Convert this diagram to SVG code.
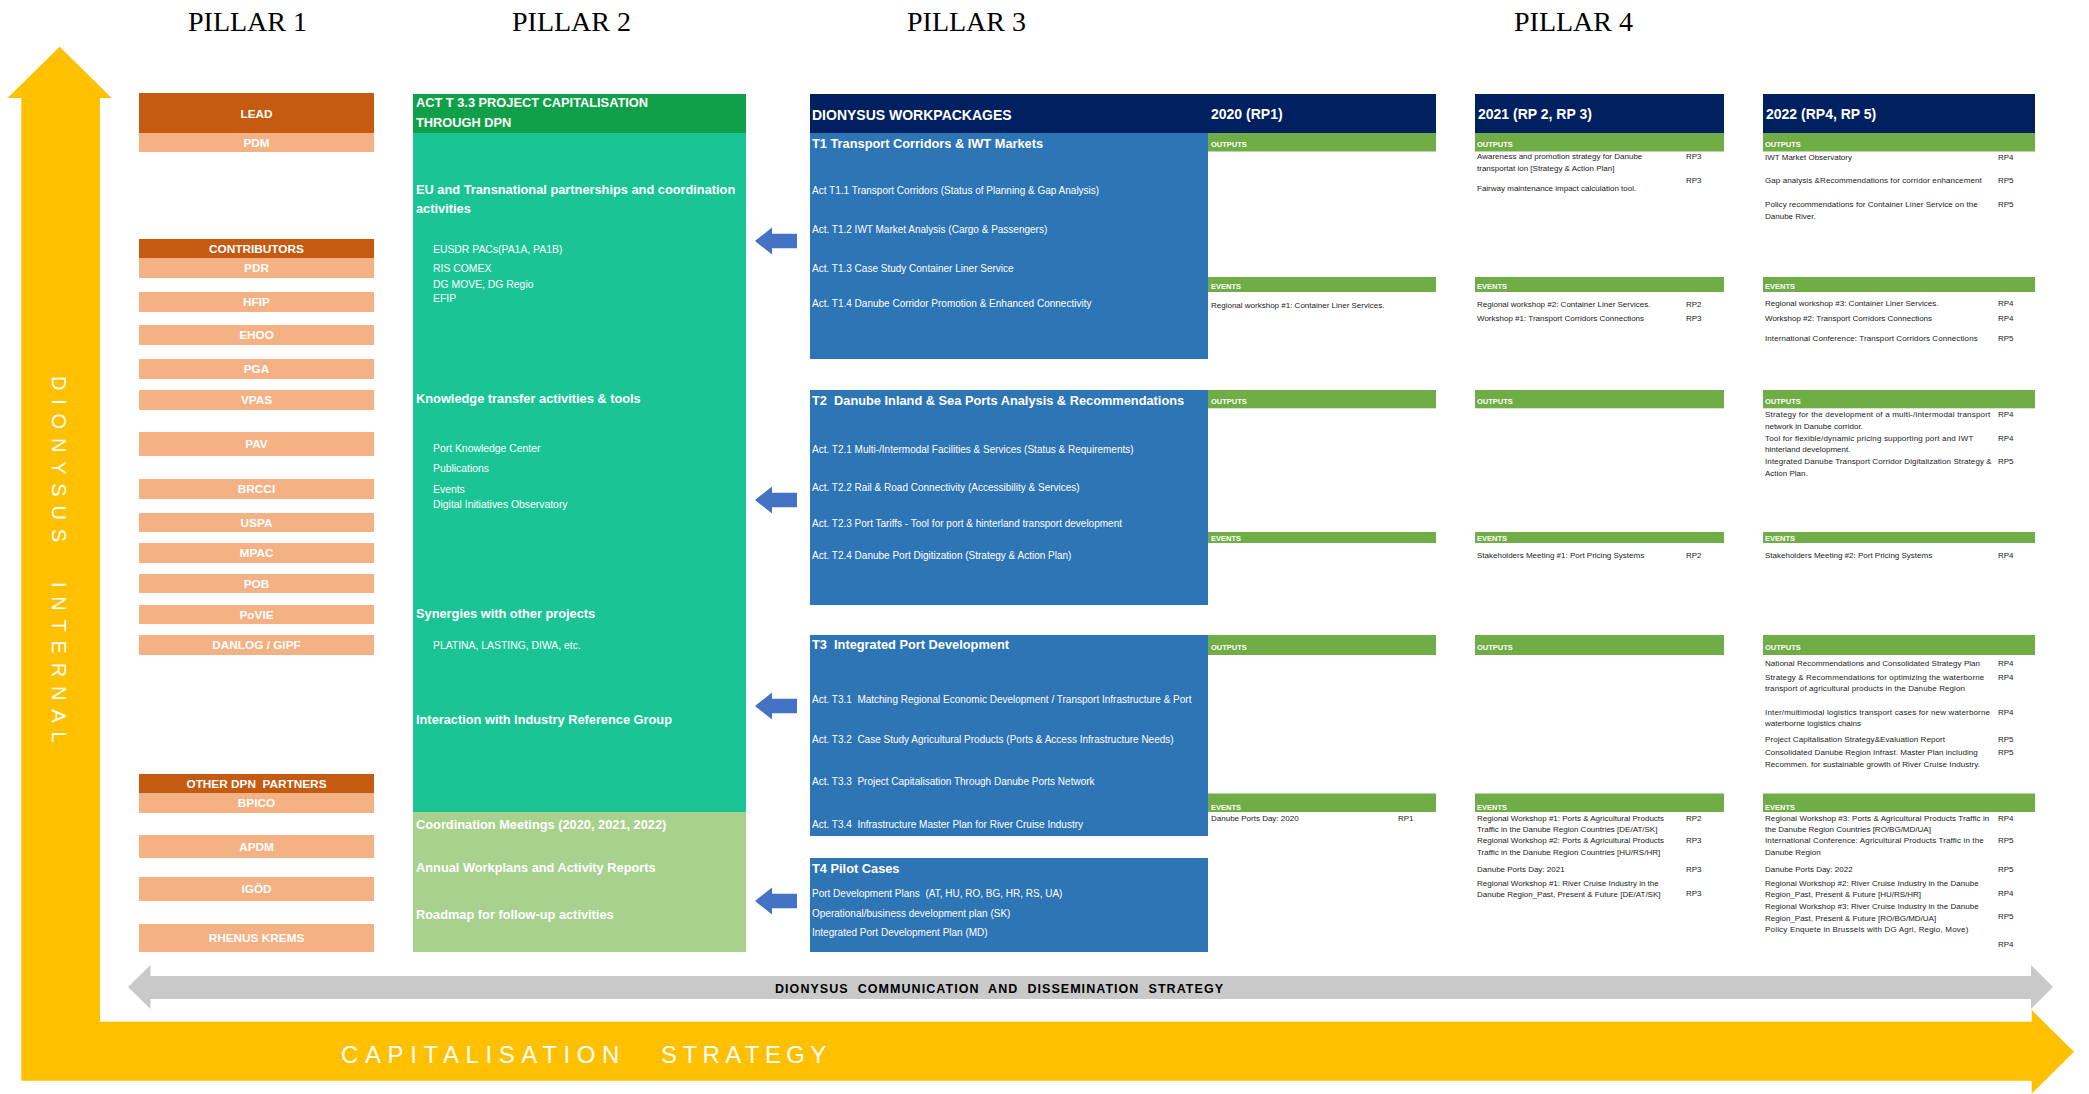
<svg xmlns="http://www.w3.org/2000/svg" width="2089" height="1094" viewBox="0 0 2089 1094">
<style>
text{font-family:'Liberation Sans',Arial,sans-serif}
.ttl{font-family:'Liberation Serif','Times New Roman',serif;font-size:28px;fill:#000}
.dk{fill:#C55A11}.lt{fill:#F4B183}
.pt{font-weight:bold;font-size:11.8px;fill:#fff;text-anchor:middle}
.b{font-weight:bold;fill:#fff;font-size:12.8px}
.w{fill:#fff;font-size:10px}
.w2{fill:#fff;font-size:10.4px}
.yh{font-weight:bold;fill:#fff;font-size:14px}
.gb{fill:#70AD47}
.gl{font-weight:bold;fill:#fff;font-size:7.5px}
.s{fill:#222;font-size:8px}
.navy{fill:#002060}.blue{fill:#2E75B6}
.teal{fill:#1AC495}.lg{fill:#A9D18E}
.big{fill:#fff;font-size:24px;letter-spacing:6.6px}
.vert{fill:#fff;font-size:20px;letter-spacing:8.8px}
</style>
<defs>
<path id="blk" d="M-21,0 L-4,-13.5 L-4,-7.3 L21,-7.3 L21,7.3 L-4,7.3 L-4,13.5 Z" fill="#4472C4"/>
</defs>

<!-- background frame arrows -->
<g id="capitalisation-arrow">
<polygon fill="#FFC000" points="59.6,46.7 111.7,98 100,98 100,1021.7 2031.7,1021.7 2031.7,1010 2074,1051.7 2031.7,1093.5 2031.7,1080.7 21.3,1080.7 21.3,98 7.6,98"/>
<text class="big" x="341" y="1063">CAPITALISATION<tspan x="661" letter-spacing="5.4">STRATEGY</tspan></text>
<text class="vert" transform="translate(52,376) rotate(90)">DIONYSUS<tspan x="206">INTERNAL</tspan></text>
</g>
<g id="communication-arrow">
<polygon fill="#C9C9C9" points="128,987 150.5,965 150.5,976 2031,976 2031,965 2053,987 2031,1009 2031,999 150.5,999 150.5,1009"/>
<text x="999" y="993" font-weight="bold" font-size="12.5" fill="#000" text-anchor="middle" textLength="448" xml:space="preserve">DIONYSUS  COMMUNICATION  AND  DISSEMINATION  STRATEGY</text>
</g>

<g id="titles">
<text class="ttl" x="188" y="30.7">PILLAR 1</text>
<text class="ttl" x="512" y="30.7">PILLAR 2</text>
<text class="ttl" x="907" y="30.7">PILLAR 3</text>
<text class="ttl" x="1514" y="30.7">PILLAR 4</text>
</g>

<!-- PILLAR 1 -->
<g id="p1-lead"><rect class="dk" x="139" y="93" width="235" height="40"/><text class="pt" x="256.5" y="117.5">LEAD</text></g>
<g id="p1-pdm"><rect class="lt" x="139" y="133" width="235" height="19"/><text class="pt" x="256.5" y="146.7">PDM</text></g>
<g id="p1-contributors"><rect class="dk" x="139" y="239" width="235" height="19"/><text class="pt" x="256.5" y="252.7">CONTRIBUTORS</text></g>
<g id="p1-pdr"><rect class="lt" x="139" y="258" width="235" height="20"/><text class="pt" x="256.5" y="272.2">PDR</text></g>
<g id="p1-hfip"><rect class="lt" x="139" y="292" width="235" height="20"/><text class="pt" x="256.5" y="306.2">HFIP</text></g>
<g id="p1-ehoo"><rect class="lt" x="139" y="325" width="235" height="20"/><text class="pt" x="256.5" y="339.2">EHOO</text></g>
<g id="p1-pga"><rect class="lt" x="139" y="359" width="235" height="20"/><text class="pt" x="256.5" y="373.2">PGA</text></g>
<g id="p1-vpas"><rect class="lt" x="139" y="390" width="235" height="20"/><text class="pt" x="256.5" y="404.2">VPAS</text></g>
<g id="p1-pav"><rect class="lt" x="139" y="432" width="235" height="24"/><text class="pt" x="256.5" y="448.2">PAV</text></g>
<g id="p1-brcci"><rect class="lt" x="139" y="479" width="235" height="20"/><text class="pt" x="256.5" y="493.2">BRCCI</text></g>
<g id="p1-uspa"><rect class="lt" x="139" y="513" width="235" height="19"/><text class="pt" x="256.5" y="526.7">USPA</text></g>
<g id="p1-mpac"><rect class="lt" x="139" y="543" width="235" height="20"/><text class="pt" x="256.5" y="557.2">MPAC</text></g>
<g id="p1-pob"><rect class="lt" x="139" y="574" width="235" height="19"/><text class="pt" x="256.5" y="587.7">POB</text></g>
<g id="p1-povie"><rect class="lt" x="139" y="605" width="235" height="19"/><text class="pt" x="256.5" y="618.7">PoVIE</text></g>
<g id="p1-danlog"><rect class="lt" x="139" y="635" width="235" height="20"/><text class="pt" x="256.5" y="649.2">DANLOG / GIPF</text></g>
<g id="p1-other"><rect class="dk" x="139" y="774" width="235" height="19"/><text class="pt" x="256.5" y="787.7" xml:space="preserve">OTHER DPN  PARTNERS</text></g>
<g id="p1-bpico"><rect class="lt" x="139" y="793" width="235" height="20"/><text class="pt" x="256.5" y="807.2">BPICO</text></g>
<g id="p1-apdm"><rect class="lt" x="139" y="835" width="235" height="23"/><text class="pt" x="256.5" y="850.7">APDM</text></g>
<g id="p1-igod"><rect class="lt" x="139" y="877" width="235" height="24"/><text class="pt" x="256.5" y="893.2">IGÖD</text></g>
<g id="p1-rhenus"><rect class="lt" x="139" y="924" width="235" height="28"/><text class="pt" x="256.5" y="942.2">RHENUS KREMS</text></g>

<!-- PILLAR 2 -->
<g id="p2-header"><rect fill="#11A04A" x="413" y="94" width="333" height="39"/>
<text class="b" font-size="13.3" x="416" y="106.7">ACT T 3.3 PROJECT CAPITALISATION</text>
<text class="b" font-size="13.3" x="416" y="126.7">THROUGH DPN</text></g>
<g id="p2-activities"><rect class="teal" x="413" y="133" width="333" height="679"/>
<text class="b" x="416" y="194.3">EU and Transnational partnerships and coordination</text>
<text class="b" x="416" y="213.3">activities</text>
<text class="w2" x="433" y="253.3">EUSDR PACs(PA1A, PA1B)</text>
<text class="w2" x="433" y="271.7">RIS COMEX</text>
<text class="w2" x="433" y="287.7">DG MOVE, DG Regio</text>
<text class="w2" x="433" y="302.3">EFIP</text>
<text class="b" x="416" y="403.3">Knowledge transfer activities &amp; tools</text>
<text class="w2" x="433" y="451.7">Port Knowledge Center</text>
<text class="w2" x="433" y="471.7">Publications</text>
<text class="w2" x="433" y="492.7">Events</text>
<text class="w2" x="433" y="508.3">Digital Initiatives Observatory</text>
<text class="b" x="416" y="618.3">Synergies with other projects</text>
<text class="w2" x="433" y="649.3">PLATINA, LASTING, DIWA, etc.</text>
<text class="b" x="416" y="724">Interaction with Industry Reference Group</text></g>
<g id="p2-coordination"><rect class="lg" x="413" y="812" width="333" height="140"/>
<text class="b" x="416" y="829.3">Coordination Meetings (2020, 2021, 2022)</text>
<text class="b" x="416" y="872.3">Annual Workplans and Activity Reports</text>
<text class="b" x="416" y="919.3">Roadmap for follow-up activities</text></g>

<!-- connectors -->
<g id="connectors">
<use href="#blk" x="776" y="241"/>
<use href="#blk" x="776" y="500"/>
<use href="#blk" x="776" y="706"/>
<use href="#blk" x="776" y="901"/>
</g>

<!-- PILLAR 3 -->
<g id="p3-header"><rect class="navy" x="810" y="94" width="626" height="39"/>
<text class="yh" font-size="13.2" x="812" y="119.5">DIONYSUS WORKPACKAGES</text>
<text class="yh" x="1211" y="119">2020 (RP1)</text></g>
<g id="t1"><rect class="blue" x="810" y="133" width="398" height="226"/>
<text class="b" x="812" y="147.5">T1 Transport Corridors &amp; IWT Markets</text>
<text class="w" x="812" y="193.9">Act T1.1 Transport Corridors (Status of Planning &amp; Gap Analysis)</text>
<text class="w" x="812" y="233">Act. T1.2 IWT Market Analysis (Cargo &amp; Passengers)</text>
<text class="w" x="812" y="271.6">Act. T1.3 Case Study Container Liner Service</text>
<text class="w" x="812" y="307.1">Act. T1.4 Danube Corridor Promotion &amp; Enhanced Connectivity</text></g>
<g id="t2"><rect class="blue" x="810" y="390" width="398" height="215"/>
<text class="b" x="812" y="404.5" xml:space="preserve">T2  Danube Inland &amp; Sea Ports Analysis &amp; Recommendations</text>
<text class="w" x="812" y="452.5">Act. T2.1 Multi-/Intermodal Facilities &amp; Services (Status &amp; Requirements)</text>
<text class="w" x="812" y="490.7">Act. T2.2 Rail &amp; Road Connectivity (Accessibility &amp; Services)</text>
<text class="w" x="812" y="527.2">Act. T2.3 Port Tariffs - Tool for port &amp; hinterland transport development</text>
<text class="w" x="812" y="559">Act. T2.4 Danube Port Digitization (Strategy &amp; Action Plan)</text></g>
<g id="t3"><rect class="blue" x="810" y="635" width="398" height="201"/>
<text class="b" x="812" y="649.3" xml:space="preserve">T3  Integrated Port Development</text>
<text class="w" x="812" y="703.3" xml:space="preserve">Act. T3.1  Matching Regional Economic Development / Transport Infrastructure &amp; Port</text>
<text class="w" x="812" y="743.3" xml:space="preserve">Act. T3.2  Case Study Agricultural Products (Ports &amp; Access Infrastructure Needs)</text>
<text class="w" x="812" y="785" xml:space="preserve">Act. T3.3  Project Capitalisation Through Danube Ports Network</text>
<text class="w" x="812" y="828" xml:space="preserve">Act. T3.4  Infrastructure Master Plan for River Cruise Industry</text></g>
<g id="t4"><rect class="blue" x="810" y="858" width="398" height="94"/>
<text class="b" x="812" y="872.7">T4 Pilot Cases</text>
<text class="w" x="812" y="897.3" xml:space="preserve">Port Development Plans  (AT, HU, RO, BG, HR, RS, UA)</text>
<text class="w" x="812" y="917.3">Operational/business development plan (SK)</text>
<text class="w" x="812" y="936">Integrated Port Development Plan (MD)</text></g>

<!-- PILLAR 4 : 2020 -->
<g id="y2020-t1">
<rect class="gb" x="1208" y="133" width="228" height="18.5"/><text class="gl" x="1211" y="147">OUTPUTS</text>
<rect class="gb" x="1208" y="277" width="228" height="15"/><text class="gl" x="1211" y="289">EVENTS</text>
<text class="s" x="1211" y="307.5">Regional workshop #1: Container Liner Services.</text></g>
<g id="y2020-t2">
<rect class="gb" x="1208" y="390" width="228" height="18.3"/><text class="gl" x="1211" y="404">OUTPUTS</text>
<rect class="gb" x="1208" y="532" width="228" height="11"/><text class="gl" x="1211" y="541">EVENTS</text></g>
<g id="y2020-t3">
<rect class="gb" x="1208" y="635" width="228" height="20"/><text class="gl" x="1211" y="650">OUTPUTS</text>
<rect class="gb" x="1208" y="793.5" width="228" height="18.5"/><text class="gl" x="1211" y="809.5">EVENTS</text>
<text class="s" x="1211" y="821">Danube Ports Day: 2020</text><text class="s" x="1398" y="821">RP1</text></g>

<!-- 2021 -->
<g id="y2021-header"><rect class="navy" x="1475" y="94" width="249" height="39"/><text class="yh" x="1478" y="119">2021 (RP 2, RP 3)</text></g>
<g id="y2021-t1">
<rect class="gb" x="1475" y="133" width="249" height="18.5"/><text class="gl" x="1477" y="147">OUTPUTS</text>
<text class="s" x="1477" y="159">Awareness and promotion strategy for Danube</text><text class="s" x="1686" y="159">RP3</text>
<text class="s" x="1477" y="170.7">transportat ion [Strategy &amp; Action Plan]</text>
<text class="s" x="1686" y="182.7">RP3</text>
<text class="s" x="1477" y="191">Fairway maintenance impact calculation tool.</text>
<rect class="gb" x="1475" y="277" width="249" height="15"/><text class="gl" x="1477" y="289">EVENTS</text>
<text class="s" x="1477" y="306.7">Regional workshop #2: Container Liner Services.</text><text class="s" x="1686" y="306.7">RP2</text>
<text class="s" x="1477" y="321">Workshop #1: Transport Corridors Connections</text><text class="s" x="1686" y="321">RP3</text></g>
<g id="y2021-t2">
<rect class="gb" x="1475" y="390" width="249" height="18.3"/><text class="gl" x="1477" y="404">OUTPUTS</text>
<rect class="gb" x="1475" y="532" width="249" height="11"/><text class="gl" x="1477" y="541">EVENTS</text>
<text class="s" x="1477" y="558.3">Stakeholders Meeting #1: Port Pricing Systems</text><text class="s" x="1686" y="558.3">RP2</text></g>
<g id="y2021-t3">
<rect class="gb" x="1475" y="635" width="249" height="20"/><text class="gl" x="1477" y="650">OUTPUTS</text>
<rect class="gb" x="1475" y="793.5" width="249" height="18.5"/><text class="gl" x="1477" y="809.5">EVENTS</text>
<text class="s" x="1477" y="820.7">Regional Workshop #1: Ports &amp; Agricultural Products</text><text class="s" x="1686" y="820.7">RP2</text>
<text class="s" x="1477" y="832.3">Traffic in the Danube Region Countries [DE/AT/SK]</text>
<text class="s" x="1477" y="843.3">Regional Workshop #2: Ports &amp; Agricultural Products</text><text class="s" x="1686" y="843.3">RP3</text>
<text class="s" x="1477" y="855.3">Traffic in the Danube Region Countries [HU/RS/HR]</text>
<text class="s" x="1477" y="872.3">Danube Ports Day: 2021</text><text class="s" x="1686" y="872.3">RP3</text>
<text class="s" x="1477" y="886">Regional Workshop #1: River Cruise Industry in the</text>
<text class="s" x="1477" y="896.7">Danube Region_Past, Present &amp; Future [DE/AT/SK]</text><text class="s" x="1686" y="896">RP3</text></g>

<!-- 2022 -->
<g id="y2022-header"><rect class="navy" x="1763" y="94" width="272" height="39"/><text class="yh" x="1766" y="119">2022 (RP4, RP 5)</text></g>
<g id="y2022-t1">
<rect class="gb" x="1763" y="133" width="272" height="18.5"/><text class="gl" x="1765" y="147">OUTPUTS</text>
<text class="s" x="1765" y="160">IWT Market Observatory</text><text class="s" x="1998" y="160">RP4</text>
<text class="s" x="1765" y="183.3" textLength="216.7">Gap analysis &amp;Recommendations for corridor enhancement</text><text class="s" x="1998" y="183.3">RP5</text>
<text class="s" x="1765" y="207" textLength="212.7">Policy recommendations for Container Liner Service on the</text><text class="s" x="1998" y="207">RP5</text>
<text class="s" x="1765" y="219">Danube River.</text>
<rect class="gb" x="1763" y="277" width="272" height="15"/><text class="gl" x="1765" y="289">EVENTS</text>
<text class="s" x="1765" y="306.3">Regional workshop #3: Container Liner Services.</text><text class="s" x="1998" y="306.3">RP4</text>
<text class="s" x="1765" y="321">Workshop #2: Transport Corridors Connections</text><text class="s" x="1998" y="321">RP4</text>
<text class="s" x="1765" y="341" textLength="212.7">International Conference: Transport Corridors Connections</text><text class="s" x="1998" y="341">RP5</text></g>
<g id="y2022-t2">
<rect class="gb" x="1763" y="390" width="272" height="18.3"/><text class="gl" x="1765" y="404">OUTPUTS</text>
<text class="s" x="1765" y="417.3" textLength="225.3">Strategy for the development of a multi-/intermodal transport</text><text class="s" x="1998" y="417.3">RP4</text>
<text class="s" x="1765" y="429">network in Danube corridor.</text>
<text class="s" x="1765" y="441" textLength="208.3">Tool for flexible/dynamic pricing supporting port and IWT</text><text class="s" x="1998" y="441">RP4</text>
<text class="s" x="1765" y="452">hinterland development.</text>
<text class="s" x="1765" y="464" textLength="226.7">Integrated Danube Transport Corridor Digitalization Strategy &amp;</text><text class="s" x="1998" y="464">RP5</text>
<text class="s" x="1765" y="476">Action Plan.</text>
<rect class="gb" x="1763" y="532" width="272" height="11"/><text class="gl" x="1765" y="541">EVENTS</text>
<text class="s" x="1765" y="558.3">Stakeholders Meeting #2: Port Pricing Systems</text><text class="s" x="1998" y="558.3">RP4</text></g>
<g id="y2022-t3">
<rect class="gb" x="1763" y="635" width="272" height="20"/><text class="gl" x="1765" y="650">OUTPUTS</text>
<text class="s" x="1765" y="666" textLength="215">National Recommendations and Consolidated Strategy Plan</text><text class="s" x="1998" y="666">RP4</text>
<text class="s" x="1765" y="680.3" textLength="219.3">Strategy &amp; Recommendations for optimizing the waterborne</text><text class="s" x="1998" y="680.3">RP4</text>
<text class="s" x="1765" y="691.3" textLength="200">transport of agricultural products in the Danube Region</text>
<text class="s" x="1765" y="715" textLength="225">Inter/multimodal logistics transport cases for new waterborne</text><text class="s" x="1998" y="715">RP4</text>
<text class="s" x="1765" y="726.3">waterborne logistics chains</text>
<text class="s" x="1765" y="742" textLength="180">Project Capitalisation Strategy&amp;Evaluation Report</text><text class="s" x="1998" y="742">RP5</text>
<text class="s" x="1765" y="755.3" textLength="212.7">Consolidated Danube Region Infrast. Master Plan including</text><text class="s" x="1998" y="755.3">RP5</text>
<text class="s" x="1765" y="767.3" textLength="215">Recommen. for sustainable growth of River Cruise Industry.</text>
<rect class="gb" x="1763" y="793.5" width="272" height="18.5"/><text class="gl" x="1765" y="809.5">EVENTS</text>
<text class="s" x="1765" y="820.7" textLength="224.3">Regional Workshop #3: Ports &amp; Agricultural Products Traffic in</text><text class="s" x="1998" y="820.7">RP4</text>
<text class="s" x="1765" y="832.3">the Danube Region Countries [RO/BG/MD/UA]</text>
<text class="s" x="1765" y="843.3" textLength="218.7">International Conference: Agricultural Products Traffic in the</text><text class="s" x="1998" y="843.3">RP5</text>
<text class="s" x="1765" y="855.3">Danube Region</text>
<text class="s" x="1765" y="872.3">Danube Ports Day: 2022</text><text class="s" x="1998" y="872.3">RP5</text>
<text class="s" x="1765" y="886" textLength="213.7">Regional Workshop #2: River Cruise Industry in the Danube</text>
<text class="s" x="1765" y="896.7">Region_Past, Present &amp; Future [HU/RS/HR]</text><text class="s" x="1998" y="896">RP4</text>
<text class="s" x="1765" y="909" textLength="213.7">Regional Workshop #3: River Cruise Industry in the Danube</text>
<text class="s" x="1765" y="921.3">Region_Past, Present &amp; Future [RO/BG/MD/UA]</text><text class="s" x="1998" y="919.3">RP5</text>
<text class="s" x="1765" y="932.3" textLength="203.3">Policy Enquete in Brussels with DG Agri, Regio, Move)</text>
<text class="s" x="1998" y="947.3">RP4</text></g>
</svg>
